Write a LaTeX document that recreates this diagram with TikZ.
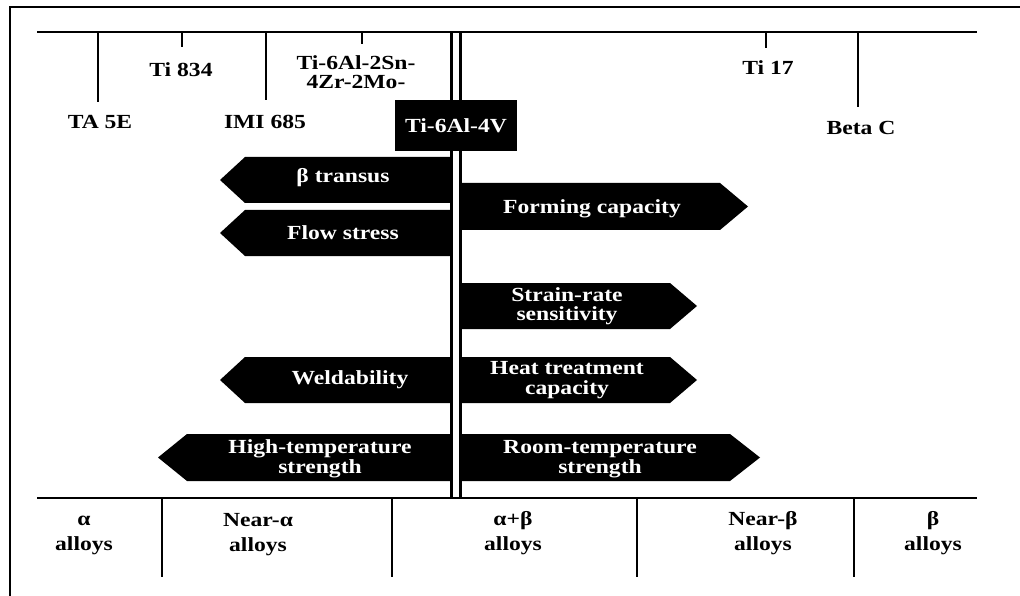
\documentclass[tikz,border=0pt]{standalone}
\usepackage{fontspec}
\newfontfamily\labfont{Liberation Serif}[FakeStretch=1.18]
\begin{document}
\begin{tikzpicture}[x=1pt,y=-1pt,
  lab/.style={font=\labfont\bfseries\fontsize{20}{19.5}\selectfont, inner sep=0pt, align=center, text=black},
  blab/.style={font=\labfont\bfseries\fontsize{20}{25}\selectfont, inner sep=0pt, align=center, text=black},
  wlab/.style={lab, text=white},
  axis/.style={line width=2pt, black},
  tick/.style={line width=2pt, black},
  sign/.style={fill=black}]
\useasboundingbox (0,0) rectangle (1020,596);
\fill[white] (0,0) rectangle (1020,596);
% frame
\draw[line width=2pt] (10,596) -- (10,7) -- (1020,7);
% axes
\coordinate (tl) at (37,32); \coordinate (tr) at (977,32);
\coordinate (bl) at (37,498); \coordinate (br) at (977,498);
\draw[axis] (tl) -- (tr);
\draw[axis] (bl) -- (br);
% central double line
\draw[line width=3pt] (451.5,32) -- (451.5,498);
\draw[line width=3pt] (460,32) -- (460,498);
% top labels
\node[lab] (ta5e) at (100,122) {TA 5E};
\node[lab] (ti834) at (181,70) {Ti 834};
\node[lab] (imi) at (265,122) {IMI 685};
\node[lab] (ti6242) at (356,72) {Ti-6Al-2Sn-\\4Zr-2Mo-};
\node[lab] (ti17) at (768,68) {Ti 17};
\node[lab] (betac) at (861,128) {Beta C};
\draw[tick] (98,32) -- (98,102);
\draw[tick] (182,32) -- (182,47);
\draw[tick] (266,32) -- (266,100);
\draw[tick] (362,32) -- (362,44);
\draw[tick] (766,32) -- (766,48);
\draw[tick] (858,32) -- (858,107);
% Ti-6Al-4V box
\node[wlab, fill=black, minimum width=122pt, minimum height=51pt] (ti64) at (456,125.5) {Ti-6Al-4V};
% left arrows
\fill[sign] (450,157) -- (245,157) -- (220,180) -- (245,203) -- (450,203) -- cycle;
\node[wlab] (btr) at (343,178) {β transus};
\fill[sign] (450,210) -- (245,210) -- (220,233) -- (245,256) -- (450,256) -- cycle;
\node[wlab] (flow) at (343,233) {Flow stress};
\fill[sign] (450,357) -- (245,357) -- (220,380) -- (245,403) -- (450,403) -- cycle;
\node[wlab] (weld) at (350,380) {Weldability};
\fill[sign] (450,434) -- (187,434) -- (158,457.5) -- (187,481) -- (450,481) -- cycle;
\node[wlab] (hts) at (320,459) {High-temperature\\strength};
% right arrows
\fill[sign] (462,183) -- (720,183) -- (748,206.5) -- (720,230) -- (462,230) -- cycle;
\node[wlab] (form) at (592,209) {Forming capacity};
\fill[sign] (462,283) -- (670,283) -- (697,306) -- (670,329) -- (462,329) -- cycle;
\node[wlab] (srs) at (567,306) {Strain-rate\\sensitivity};
\fill[sign] (462,357) -- (670,357) -- (697,380) -- (670,403) -- (462,403) -- cycle;
\node[wlab] (htc) at (567,380) {Heat treatment\\capacity};
\fill[sign] (462,434) -- (730,434) -- (760,457.5) -- (730,481) -- (462,481) -- cycle;
\node[wlab] (rts) at (600,459) {Room-temperature\\strength};
% bottom ticks and labels
\draw[tick] (162,498) -- (162,577);
\draw[tick] (392,498) -- (392,577);
\draw[tick] (637,498) -- (637,577);
\draw[tick] (854,498) -- (854,577);
\node[blab] (alpha) at (84,535) {α\\alloys};
\node[blab] (nalpha) at (258,535) {Near-α\\alloys};
\node[blab] (ab) at (513,533) {α+β\\alloys};
\node[blab] (nbeta) at (763,533) {Near-β\\alloys};
\node[blab] (beta) at (933,533) {β\\alloys};
\end{tikzpicture}
\end{document}
